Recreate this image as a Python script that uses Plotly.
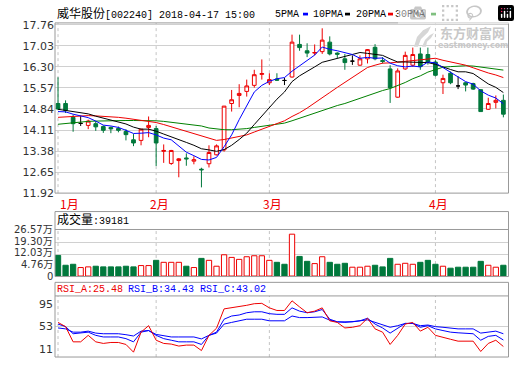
import plotly.graph_objects as go

W, H = 520, 365

# ---------------- data ----------------
open_ = [15.03, 15.03, 14.55, 14.34, 14.27, 14.33, 14.23, 14.20, 14.16, 14.06,
         13.77, 13.75, 14.20, 14.16, 13.37, 12.95, 13.05, 13.14, 13.03, 12.75,
         12.94, 13.25, 13.42, 15.03, 15.31, 15.45, 15.66, 16.04, 15.75, 15.88,
         15.83, 15.95, 17.08, 16.86, 16.78, 16.83, 17.16, 16.78, 16.58, 16.50,
         16.36, 16.58, 16.98, 16.52, 16.23, 15.25, 16.23, 16.36, 16.75, 16.73,
         16.47, 15.75, 16.08, 15.64, 15.75, 15.72, 15.51, 14.83, 15.07, 15.14]
high = [15.94, 15.14, 14.64, 14.61, 14.47, 14.42, 14.27, 14.23, 14.23, 14.14,
        13.97, 14.14, 14.58, 14.25, 13.61, 13.42, 13.14, 13.30, 13.20, 12.80,
        13.58, 13.61, 14.94, 15.50, 15.70, 15.86, 16.20, 16.56, 16.08, 16.08,
        15.92, 17.42, 17.42, 17.12, 17.08, 17.64, 17.36, 16.81, 16.75, 16.70,
        16.70, 16.92, 17.09, 16.64, 16.36, 16.25, 16.83, 16.97, 16.97, 16.97,
        16.53, 16.03, 16.14, 15.97, 15.77, 15.75, 15.53, 15.23, 15.31, 15.34]
low = [14.80, 14.70, 14.05, 14.25, 14.14, 14.08, 14.01, 14.00, 14.03, 13.75,
       13.55, 13.58, 13.86, 12.86, 12.97, 12.90, 12.47, 12.87, 12.92, 12.12,
       12.81, 13.23, 13.36, 14.75, 14.90, 15.27, 15.58, 15.86, 15.67, 15.81,
       15.67, 15.93, 16.86, 16.64, 16.70, 16.75, 16.70, 16.61, 16.20, 16.37,
       16.34, 16.42, 16.53, 16.42, 15.05, 15.23, 16.20, 16.30, 16.20, 16.38,
       15.97, 15.36, 15.70, 15.53, 15.45, 15.50, 14.75, 14.81, 14.86, 14.55]
close = [14.84, 14.79, 14.33, 14.34, 14.42, 14.22, 14.10, 14.15, 14.10, 13.95,
         13.66, 14.14, 14.27, 13.66, 13.40, 13.40, 13.11, 13.11, 13.08, 12.73,
         13.33, 13.56, 14.94, 15.16, 15.38, 15.64, 16.03, 16.07, 15.86, 15.84,
         15.83, 17.16, 16.97, 16.78, 16.80, 17.23, 16.75, 16.74, 16.45, 16.50,
         16.58, 16.90, 16.58, 16.49, 15.58, 16.16, 16.70, 16.73, 16.31, 16.47,
         16.01, 15.90, 15.75, 15.64, 15.67, 15.53, 14.75, 15.03, 15.14, 14.66]

ma5 = [14.75, 14.74, 14.66, 14.60, 14.54, 14.42, 14.28, 14.25, 14.20, 14.10,
       13.99, 14.00, 14.02, 13.94, 13.83, 13.77, 13.57, 13.34, 13.22, 13.09,
       13.07, 13.16, 13.53, 13.94, 14.47, 14.94, 15.43, 15.66, 15.80, 15.89,
       15.93, 16.15, 16.33, 16.52, 16.71, 16.99, 16.91, 16.86, 16.79, 16.73,
       16.60, 16.63, 16.60, 16.61, 16.43, 16.34, 16.30, 16.33, 16.30, 16.47,
       16.44, 16.28, 16.09, 15.95, 15.79, 15.70, 15.47, 15.32, 15.22, 15.02]
ma10 = [14.83, 14.79, 14.75, 14.72, 14.67, 14.59, 14.52, 14.45, 14.40, 14.32,
        14.21, 14.14, 14.14, 14.07, 13.97, 13.88, 13.78, 13.68, 13.58, 13.46,
        13.42, 13.37, 13.43, 13.58, 13.78, 14.00, 14.30, 14.59, 14.87, 15.18,
        15.43, 15.79, 15.99, 16.16, 16.30, 16.46, 16.53, 16.60, 16.66, 16.72,
        16.80, 16.77, 16.73, 16.70, 16.58, 16.47, 16.47, 16.47, 16.45, 16.45,
        16.39, 16.29, 16.21, 16.13, 16.13, 16.07, 15.88, 15.71, 15.59, 15.41]
ma20 = [14.55, 14.57, 14.59, 14.60, 14.61, 14.60, 14.59, 14.57, 14.55, 14.52,
        14.48, 14.45, 14.42, 14.37, 14.30, 14.22, 14.13, 14.05, 13.97, 13.89,
        13.82, 13.75, 13.78, 13.83, 13.87, 13.94, 14.04, 14.14, 14.22, 14.32,
        14.43, 14.58, 14.71, 14.87, 15.04, 15.23, 15.41, 15.59, 15.76, 15.95,
        16.11, 16.28, 16.36, 16.43, 16.44, 16.47, 16.50, 16.53, 16.55, 16.59,
        16.60, 16.53, 16.47, 16.41, 16.36, 16.27, 16.17, 16.09, 16.02, 15.93]
ma30 = [14.31, 14.34, 14.36, 14.38, 14.41, 14.42, 14.43, 14.44, 14.44, 14.44,
        14.44, 14.44, 14.44, 14.43, 14.41, 14.38, 14.36, 14.33, 14.30, 14.25,
        14.18, 14.14, 14.12, 14.12, 14.13, 14.16, 14.20, 14.24, 14.28, 14.32,
        14.35, 14.43, 14.52, 14.60, 14.68, 14.78, 14.87, 14.96, 15.03, 15.12,
        15.22, 15.31, 15.39, 15.48, 15.55, 15.65, 15.76, 15.89, 15.99, 16.12,
        16.21, 16.29, 16.31, 16.33, 16.34, 16.33, 16.29, 16.26, 16.23, 16.19]

volume_wan = [11.76, 6.16, 6.72, 4.86, 5.23, 5.60, 5.23, 5.23, 5.23, 5.60,
              5.23, 5.98, 5.98, 8.96, 7.84, 7.84, 7.84, 5.60, 4.86, 10.08,
              8.96, 5.60, 12.14, 10.64, 9.52, 11.02, 11.58, 11.58, 8.96, 7.84,
              6.72, 23.90, 11.20, 8.40, 7.10, 11.02, 7.84, 6.72, 7.28, 5.04,
              5.04, 5.60, 6.16, 5.23, 10.08, 6.72, 7.28, 6.72, 7.84, 8.96,
              6.72, 5.60, 4.48, 5.04, 5.04, 5.04, 8.40, 6.16, 5.04, 6.16]

rsi_a = [58.6, 52.8, 31.9, 31.9, 40.8, 31.9, 29.7, 31.0, 31.0, 28.3,
         17.7, 45.2, 54.1, 34.1, 29.7, 28.8, 26.1, 27.4, 27.4, 19.9,
         40.8, 50.6, 77.2, 78.6, 79.9, 82.1, 84.3, 84.8, 78.6, 75.0,
         75.0, 88.3, 79.9, 71.9, 74.1, 78.6, 60.8, 58.6, 51.0, 51.9,
         54.1, 64.3, 49.7, 45.2, 28.3, 40.8, 56.3, 58.6, 46.6, 51.9,
         40.8, 38.6, 35.4, 32.8, 32.8, 32.8, 18.6, 29.7, 34.1, 25.48]
rsi_b = [56.3, 52.8, 43.0, 43.9, 45.2, 40.8, 38.6, 38.6, 38.6, 36.3,
         31.9, 45.2, 47.4, 40.8, 36.3, 34.1, 31.9, 31.9, 31.9, 28.3,
         40.8, 45.2, 63.0, 67.4, 68.8, 71.9, 73.2, 73.2, 70.6, 69.7,
         69.7, 78.6, 74.1, 71.9, 73.2, 76.3, 63.0, 59.4, 59.4, 59.4,
         60.8, 64.3, 56.3, 51.0, 43.9, 50.6, 57.2, 57.2, 51.9, 54.1,
         49.7, 47.4, 45.2, 44.3, 43.9, 43.0, 34.1, 39.4, 40.8, 34.43]
rsi_c = [51.0, 49.7, 45.2, 45.2, 46.6, 43.9, 43.0, 43.0, 43.0, 41.7,
         39.9, 46.6, 47.4, 42.1, 39.9, 38.6, 38.6, 38.6, 38.6, 35.9,
         40.8, 43.9, 56.3, 58.6, 60.8, 63.0, 63.0, 63.0, 60.8, 60.8,
         60.8, 67.4, 65.2, 65.2, 65.2, 66.1, 61.7, 59.4, 58.6, 59.4,
         60.8, 62.1, 58.6, 55.4, 51.9, 54.1, 57.2, 57.2, 54.1, 55.0,
         52.8, 51.9, 50.6, 49.7, 49.7, 49.7, 43.9, 45.2, 46.6, 43.02]

price_ticks = [11.92, 12.65, 13.38, 14.11, 14.84, 15.57, 16.30, 17.03, 17.76]
vol_tick_text = ["26.57万", "19.30万", "12.03万", "4.76万", "0"]
vol_grid = [19.30, 12.03]
rsi_ticks = [95, 53, 11]
month_labels = ["1月", "2月", "3月", "4月"]
month_start_idx = [0, 13, 28, 50]

stock_name = "威华股份"
title_rest = "[002240] 2018-04-17 15:00"
ma_names = ["5PMA", "10PMA", "20PMA", "30PMA"]
vol_name = "成交量"
vol_last = ":39181"
rsi_header = ["RSI_A:25.48", "RSI_B:34.43", "RSI_C:43.02"]

# ---------------- styles ----------------
RED = "#ee0000"
GREEN = "#00783c"
BLUE = "#0000ff"
GRID = "#d0d0d0"
FRAME = "#999999"
MONO = "Liberation Mono, Noto Sans CJK SC"
SANS = "DejaVu Sans, Noto Sans CJK SC"
CJK = "Noto Sans CJK SC"


def px(x):
    return x / W


def py(y):
    return 1 - y / H


X0, X1 = 55, 508.5
n = len(close)
idx = list(range(n))

up = [i for i in idx if close[i] > open_[i]]
down = [i for i in idx if close[i] < open_[i]]
doji = [i for i in idx if close[i] == open_[i]]
nd = sorted(up + down)

vol_up = []
for i in idx:
    if close[i] != open_[i]:
        vol_up.append(close[i] > open_[i])
    else:
        vol_up.append(i > 0 and close[i] >= close[i - 1])

fig = go.Figure()

fig.add_trace(go.Candlestick(
    x=nd, open=[open_[i] for i in nd], high=[high[i] for i in nd],
    low=[low[i] for i in nd], close=[close[i] for i in nd],
    increasing=dict(line=dict(color=RED, width=1), fillcolor="white"),
    decreasing=dict(line=dict(color=GREEN, width=1), fillcolor=GREEN),
    whiskerwidth=0, xaxis="x", yaxis="y", hoverinfo="skip"))
fig.add_trace(go.Candlestick(
    x=doji, open=[open_[i] for i in doji], high=[high[i] for i in doji],
    low=[low[i] for i in doji], close=[close[i] for i in doji],
    increasing=dict(line=dict(color="black", width=1), fillcolor="black"),
    decreasing=dict(line=dict(color="black", width=1), fillcolor="black"),
    whiskerwidth=0, xaxis="x", yaxis="y", hoverinfo="skip"))

for vals, col in [(ma30, "#008000"), (ma20, RED), (ma10, "black"), (ma5, BLUE)]:
    fig.add_trace(go.Scatter(x=idx, y=vals, mode="lines",
                             line=dict(color=col, width=1),
                             xaxis="x", yaxis="y", hoverinfo="skip"))

fig.add_trace(go.Bar(
    x=idx, y=volume_wan, width=0.7,
    marker=dict(color=["white" if u else GREEN for u in vol_up],
                line=dict(color=[RED if u else GREEN for u in vol_up], width=1)),
    xaxis="x2", yaxis="y2", hoverinfo="skip"))

for vals, col in [(rsi_c, BLUE), (rsi_b, BLUE), (rsi_a, RED)]:
    fig.add_trace(go.Scatter(x=idx, y=vals, mode="lines",
                             line=dict(color=col, width=1),
                             xaxis="x3", yaxis="y3", hoverinfo="skip"))

xr = [-0.4, n - 1 + 0.68]
xcommon = dict(domain=[px(X0), px(X1)], range=xr, showticklabels=False,
               showgrid=False, zeroline=False, showline=False, ticks="",
               fixedrange=True)

shapes = []
# vertical dashed month lines
for (yt, yb) in [(19.5, 195), (232.5, 280.5), (301, 364)]:
    for m in month_start_idx:
        shapes.append(dict(type="line", xref="x", yref="paper", x0=m, x1=m,
                           y0=py(yb), y1=py(yt), layer="below",
                           line=dict(color="#c4c4c4", width=1, dash="3px,3px")))
# frames
for (yt, yb) in [(19.5, 195), (214, 281), (287, 364)]:
    shapes.append(dict(type="rect", xref="paper", yref="paper",
                       x0=px(X0), x1=px(X1), y0=py(yb), y1=py(yt),
                       line=dict(color=FRAME, width=1), layer="above"))
for ysep in [232.5, 301]:
    shapes.append(dict(type="line", xref="paper", yref="paper",
                       x0=px(X0), x1=px(X1), y0=py(ysep), y1=py(ysep),
                       line=dict(color=FRAME, width=1), layer="above"))
# legend swatches
for xs, col in [(303, BLUE), (345, "black"), (388, RED), (431, "#008000")]:
    shapes.append(dict(type="rect", xref="paper", yref="paper",
                       x0=px(xs), x1=px(xs + 5), y0=py(11.8), y1=py(9),
                       fillcolor=col, line=dict(width=0)))
# watermark swoosh (below the frame top, left of the logo text)
pts = [(414, 44), (417, 34), (423, 27), (431, 23), (428, 29), (421, 36), (418, 44)]
path = "M " + " L ".join(f"{px(a):.5f},{py(b):.5f}" for a, b in pts) + " Z"
shapes.append(dict(type="path", xref="paper", yref="paper", path=path,
                   fillcolor="#d6d6d6", line=dict(width=0), layer="above"))
pts2 = [(422, 44), (425, 37), (430, 32), (434, 30), (431, 35), (427, 39), (426, 44)]
path2 = "M " + " L ".join(f"{px(a):.5f},{py(b):.5f}" for a, b in pts2) + " Z"
shapes.append(dict(type="path", xref="paper", yref="paper", path=path2,
                   fillcolor="#d6d6d6", line=dict(width=0), layer="above"))


def ann(text, x, y, size, color, family, xanchor="left", **kw):
    d = dict(text=text, x=px(x), y=py(y), xref="paper", yref="paper",
             xanchor=xanchor, yanchor="middle", showarrow=False, borderpad=0,
             font=dict(size=size, color=color, family=family))
    d.update(kw)
    return d


annotations = []
annotations.append(ann(f'<span style="font-size:12px">{stock_name}</span>{title_rest}',
                       56, 10.5, 10, "black", MONO))
for name, xs in zip(ma_names, [274, 312, 355, 394]):
    annotations.append(ann(name, xs, 10.5, 10, "black", MONO))
annotations.append(ann("<b>东方财富网</b>", 472.5, 29, 13, "#c8c8c8", CJK,
                       xanchor="center"))
annotations.append(ann("<b>eastmoney.com</b>", 472.5, 42.5, 8, "#c8c8c8",
                       "DejaVu Sans", xanchor="center"))
# month labels
for k, (lab, m) in enumerate(zip(month_labels, month_start_idx)):
    annotations.append(dict(text=lab, x=m, y=py(206), xref="x", yref="paper",
                            xanchor="left" if k == 0 else "center",
                            xshift=1 if k == 0 else 3, yanchor="middle",
                            showarrow=False, borderpad=0,
                            font=dict(size=12, color=RED, family=CJK)))
annotations.append(ann(f'<span style="font-size:12px">{vol_name}</span>{vol_last}',
                       56, 223, 10, "black", MONO))
for txt, xs, col in zip(rsi_header, [56, 127, 199], [RED, BLUE, BLUE]):
    annotations.append(ann(txt, xs, 294, 10, col, MONO))
# volume axis labels
for txt, yy in zip(vol_tick_text, [232.5, 244.5, 256.5, 268.5, 280.5]):
    annotations.append(ann(txt, 53.5, yy, 10, "#333333", SANS, xanchor="right"))
# rsi axis labels
for v, yy in zip(rsi_ticks, [310, 333, 356]):
    annotations.append(ann(str(v), 53.5, yy, 11, "#333333", SANS, xanchor="right"))

fig.update_layout(
    width=W, height=H, margin=dict(l=0, r=0, t=0, b=0),
    paper_bgcolor="white", plot_bgcolor="white",
    showlegend=False, hovermode=False, boxgap=0.3,
    xaxis=dict(**xcommon, anchor="y", rangeslider=dict(visible=False)),
    xaxis2=dict(**xcommon, anchor="y2", matches="x"),
    xaxis3=dict(**xcommon, anchor="y3", matches="x"),
    yaxis=dict(domain=[py(195), py(19.5)], range=[11.92, 17.827],
               tickvals=price_ticks, ticktext=[f"{v:.2f}" for v in price_ticks],
               tickfont=dict(family=SANS, size=11, color="#333333"),
               showgrid=True, gridcolor=GRID, gridwidth=1, zeroline=False,
               ticks="", showline=False, anchor="x", fixedrange=True),
    yaxis2=dict(domain=[py(280.5), py(232.5)], range=[0, 26.57],
                tickvals=vol_grid, showticklabels=False,
                showgrid=True, gridcolor=GRID, zeroline=False, ticks="",
                anchor="x2", fixedrange=True),
    yaxis3=dict(domain=[py(364), py(301)], range=[11, 95],
                tickvals=[53], showticklabels=False,
                showgrid=True, gridcolor=GRID, zeroline=False, ticks="",
                anchor="x3", fixedrange=True),
    shapes=shapes, annotations=annotations,
)

fig.write_html("out.html",
               post_script="document.body.style.margin='0';document.body.style.overflow='hidden';")
